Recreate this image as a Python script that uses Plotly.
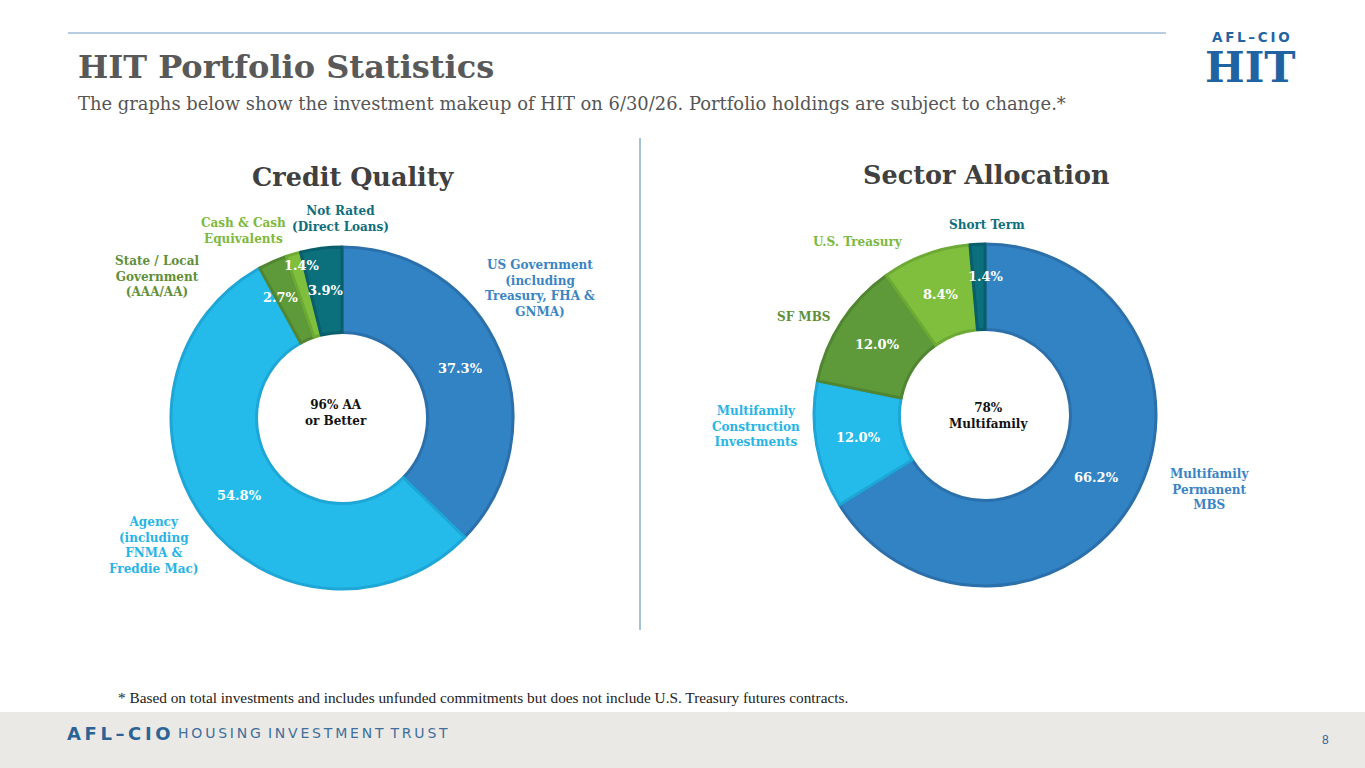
import math
import plotly.graph_objects as go

W, H = 1365, 768

# ---------------- data ----------------
credit_labels = ["US Government<br>(including<br>Treasury, FHA &<br>GNMA)",
                 "Agency<br>(including<br>FNMA &<br>Freddie Mac)",
                 "State / Local<br>Government<br>(AAA/AA)",
                 "Cash & Cash<br>Equivalents",
                 "Not Rated<br>(Direct Loans)"]
credit_values = [37.3, 54.8, 2.7, 1.4, 3.9]

sector_labels = ["Multifamily<br>Permanent<br>MBS",
                 "Multifamily<br>Construction<br>Investments",
                 "SF MBS",
                 "U.S. Treasury",
                 "Short Term"]
sector_values = [66.2, 12.0, 12.0, 8.4, 1.4]

fills = ["#3183C4", "#24BBEB", "#5F9A3A", "#80BF3E", "#0B6F7C"]
edges = ["#2B70AB", "#1DA6D6", "#508631", "#6DAA34", "#085E6A"]
label_colors = ["#3A84C4", "#27B4E6", "#5F9039", "#7CB93E", "#0E6E7E"]

SERIF = "DejaVu Serif"
TS = "\u2009"  # thin space used as letter spacing


def spaced(s):
    return TS.join(list(s))


# ---------------- layout helpers ----------------
def px(x):
    return x / W


def py(y):
    return 1 - y / H


def ann(x, y, text, font, xa="center", ya="middle", align="center"):
    return dict(x=px(x), y=py(y), xref="paper", yref="paper", text=text,
                showarrow=False, xanchor=xa, yanchor=ya, align=align, font=font)


fig = go.Figure()

pies = [
    dict(cx=342, cy=418, r=171, labels=credit_labels, values=credit_values,
         center="96% AA<br>or Better", cpos=(336, 413),
         pct_offsets=[(0, 0), (0, 0), (-9, -3), (-3, -30), (0, 0)],
         lab_pos=[(540, 289), (153, 545), (157, 277), (243, 231), (340, 219)]),
    dict(cx=985, cy=415, r=171, labels=sector_labels, values=sector_values,
         center="78%<br>Multifamily", cpos=(988, 416),
         pct_offsets=[(0, 0), (0, 0), (0, 0), (0, 0), (7, -10)],
         lab_pos=[(1209, 489), (756, 426), (803, 317), (858, 242), (987, 225)]),
]

annotations = []
HOLE = 0.5
for p in pies:
    cx, cy, r = p["cx"], p["cy"], p["r"]
    fig.add_trace(go.Pie(
        labels=[l.replace("<br>", " ") for l in p["labels"]],
        values=p["values"],
        sort=False, direction="clockwise", rotation=0, hole=HOLE,
        textinfo="none", hoverinfo="label+value",
        marker=dict(colors=fills, line=dict(color=edges, width=3)),
        domain=dict(x=[px(cx - r), px(cx + r)], y=[py(cy + r), py(cy - r)]),
        showlegend=False,
    ))
    total = sum(p["values"])
    rm = r * (1 + HOLE) / 2
    cum = 0.0
    for i, v in enumerate(p["values"]):
        th = 2 * math.pi * (cum + v / 2) / total
        cum += v
        dx, dy = p["pct_offsets"][i]
        x = cx + rm * math.sin(th) + dx
        y = cy - rm * math.cos(th) + dy
        annotations.append(ann(x, y, f"<b>{v:.1f}%</b>",
                               dict(family=SERIF, size=13, color="white")))
        lx, ly = p["lab_pos"][i]
        annotations.append(ann(lx, ly, f"<b>{p['labels'][i]}</b>",
                               dict(family=SERIF, size=12, color=label_colors[i])))
    annotations.append(ann(p["cpos"][0], p["cpos"][1], "<b>" + p["center"] + "</b>",
                           dict(family=SERIF, size=12, color="#111111")))

annotations += [
    ann(76, 67, "<b>HIT Portfolio Statistics</b>",
        dict(family=SERIF, size=32, color="#595959"), xa="left"),
    ann(76, 103, "The graphs below show the investment makeup of HIT on 6/30/26. Portfolio holdings are subject to change.*",
        dict(family=SERIF, size=17.9, color="#555555"), xa="left"),
    ann(353, 177, "<b>Credit Quality</b>", dict(family=SERIF, size=25.5, color="#404040")),
    ann(986, 175, "<b>Sector Allocation</b>", dict(family=SERIF, size=25.5, color="#404040")),
    ann(116, 697, "* Based on total investments and includes unfunded commitments but does not include U.S. Treasury futures contracts.",
        dict(family="Liberation Serif", size=15.3, color="#222222"), xa="left"),
    # logo top right
    ann(1251, 37, "<b>" + spaced("AFL–CIO") + "</b>",
        dict(family="DejaVu Sans", size=13.5, color="#2464A0")),
    ann(1250, 67, "<b>HIT</b>", dict(family=SERIF, size=42, color="#1F63A2")),
    # footer
    ann(65, 733, "<b>" + spaced("AFL–CIO") + "</b>",
        dict(family="DejaVu Sans", size=18, color="#2B6396"), xa="left"),
    ann(176, 733, "\u2002".join(spaced(w) for w in ["HOUSING", "INVESTMENT", "TRUST"]),
        dict(family="DejaVu Sans", size=14, color="#3F6F9C"), xa="left"),
    ann(1325, 740, "8", dict(family="Liberation Sans", size=12, color="#2B6396")),
]

shapes = [
    dict(type="line", xref="paper", yref="paper", x0=px(68), x1=px(1166), y0=py(33), y1=py(33),
         line=dict(color="#6E9CC0", width=1)),
    dict(type="line", xref="paper", yref="paper", x0=px(640), x1=px(640), y0=py(138), y1=py(630),
         line=dict(color="#4A86B5", width=1)),
    dict(type="rect", xref="paper", yref="paper", x0=0, x1=1, y0=0, y1=py(712),
         line=dict(width=0), fillcolor="#EBE9E6", layer="below"),
]

fig.update_layout(
    width=W, height=H, margin=dict(l=0, r=0, t=0, b=0),
    paper_bgcolor="white", plot_bgcolor="white",
    annotations=annotations, shapes=shapes,
)

fig.write_html("out.html", config={"displayModeBar": False},
               post_script="document.body.style.margin='0';")
